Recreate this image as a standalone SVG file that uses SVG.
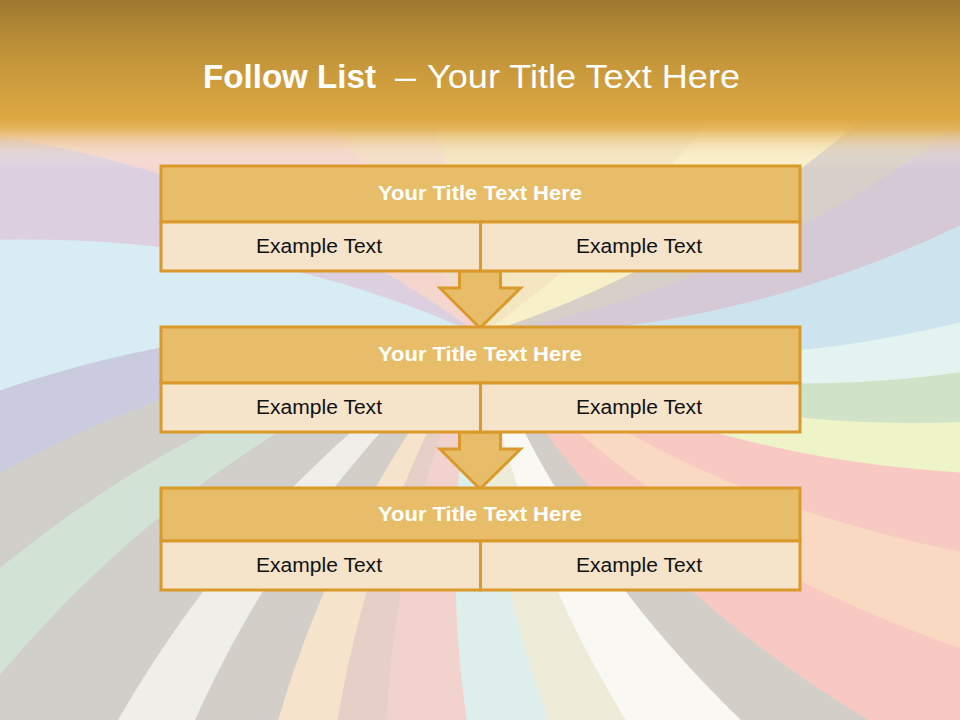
<svg xmlns="http://www.w3.org/2000/svg" xmlns:xlink="http://www.w3.org/1999/xlink" width="960" height="720" viewBox="0 0 960 720">
<style>
.ttl{fill:#E8BD69;stroke:#D99A2B;stroke-width:3}
.sub{fill:#F5E3CA;stroke:#D99A2B;stroke-width:3}
.arr{fill:#E8BD69;stroke:#D99A2B;stroke-width:3;stroke-linejoin:miter}
.ht{font-family:"Liberation Sans",Arial,sans-serif;font-weight:bold;font-size:20px;fill:#FFFFFF;text-anchor:middle}
.et{font-family:"Liberation Sans",Arial,sans-serif;font-size:20px;fill:#111111;text-anchor:middle}
.mt{font-family:"Liberation Sans",Arial,sans-serif;font-size:33px;fill:#FFFFFF}
</style>
<defs>
<path id="w" d="M0,0 C260,10 520,-70 800,-280 L1014,-76 L832.8,157.5 C485.3,199.4 220.2,138.7 0,0 Z"/>
<linearGradient id="hdr" x1="0" y1="0" x2="0" y2="170" gradientUnits="userSpaceOnUse">
<stop offset="0" stop-color="#9E782E"/>
<stop offset="0.35" stop-color="#C4963A"/>
<stop offset="0.7" stop-color="#DDA842"/>
<stop offset="0.76" stop-color="#E2AE4C" stop-opacity="0.85"/>
<stop offset="0.88" stop-color="#F2D8B0" stop-opacity="0.35"/>
<stop offset="1" stop-color="#FFFFFF" stop-opacity="0"/>
</linearGradient>
</defs>
<g id="background">
<rect x="0" y="0" width="960" height="720" fill="#E6DDD8"/>
<g transform="translate(480 335)">
<use href="#w" transform="rotate(284)" fill="#F3E6C0"/>
<use href="#w" transform="rotate(304)" fill="#F3E6C0"/>
<use href="#w" transform="rotate(323)" fill="#F8F0C8"/>
<use href="#w" transform="rotate(340)" fill="#D6D0C8"/>
<use href="#w" transform="rotate(348)" fill="#D5C9D6"/>
<use href="#w" transform="rotate(358)" fill="#CDE4EE"/>
<use href="#w" transform="rotate(369)" fill="#E3F3EF"/>
<use href="#w" transform="rotate(375)" fill="#D0E3C8"/>
<use href="#w" transform="rotate(381)" fill="#EEF3C8"/>
<use href="#w" transform="rotate(387)" fill="#F8C9C3"/>
<use href="#w" transform="rotate(396)" fill="#FAD9C2"/>
<use href="#w" transform="rotate(406)" fill="#F8C9C3"/>
<use href="#w" transform="rotate(417)" fill="#D3CFC8"/>
<use href="#w" transform="rotate(426)" fill="#FAF8F2"/>
<use href="#w" transform="rotate(438)" fill="#EEEBD8"/>
<use href="#w" transform="rotate(448)" fill="#DDEEEB"/>
<use href="#w" transform="rotate(460)" fill="#F2D2CC"/>
<use href="#w" transform="rotate(472)" fill="#E5CFC6"/>
<use href="#w" transform="rotate(479)" fill="#F5E3CB"/>
<use href="#w" transform="rotate(487)" fill="#D3CFC8"/>
<use href="#w" transform="rotate(497)" fill="#F0EEE8"/>
<use href="#w" transform="rotate(505)" fill="#D1CFC9"/>
<use href="#w" transform="rotate(518)" fill="#D2E3D5"/>
<use href="#w" transform="rotate(526)" fill="#D1CFC9"/>
<use href="#w" transform="rotate(535)" fill="#CBCBE0"/>
<use href="#w" transform="rotate(544)" fill="#D7ECF3"/>
<use href="#w" transform="rotate(562)" fill="#DCCFE0"/>
<use href="#w" transform="rotate(574)" fill="#F4D6CF"/>
<use href="#w" transform="rotate(599)" fill="#F2DCC8"/>
<use href="#w" transform="rotate(621)" fill="#F3E6C0"/>
</g>
<rect x="0" y="0" width="960" height="170" fill="url(#hdr)"/>
</g>
<g id="header">
<text class="mt" x="203" y="88" font-weight="bold" textLength="173" lengthAdjust="spacingAndGlyphs">Follow List</text>
<text class="mt" x="395" y="88" textLength="21" lengthAdjust="spacingAndGlyphs">–</text>
<text class="mt" x="427" y="88" textLength="313" lengthAdjust="spacingAndGlyphs">Your Title Text Here</text>
</g>
<g id="connectors">
<polygon class="arr" points="459.5,271 500.5,271 500.5,288 520.5,288 480,328 440,288 459.5,288"/>
<polygon class="arr" points="459.5,432 500.5,432 500.5,449 520.5,449 480,489 440,449 459.5,449"/>
</g>
<g id="box1">
<rect class="ttl" x="161" y="166" width="639" height="56"/>
<rect class="sub" x="161" y="222" width="319.5" height="49"/>
<rect class="sub" x="480.5" y="222" width="319.5" height="49"/>
<text class="ht" x="480" y="200" textLength="204" lengthAdjust="spacingAndGlyphs">Your Title Text Here</text>
<text class="et" x="319" y="253" textLength="126" lengthAdjust="spacingAndGlyphs">Example Text</text>
<text class="et" x="639" y="253" textLength="126" lengthAdjust="spacingAndGlyphs">Example Text</text>
</g>
<g id="box2">
<rect class="ttl" x="161" y="327" width="639" height="56"/>
<rect class="sub" x="161" y="383" width="319.5" height="49"/>
<rect class="sub" x="480.5" y="383" width="319.5" height="49"/>
<text class="ht" x="480" y="361" textLength="204" lengthAdjust="spacingAndGlyphs">Your Title Text Here</text>
<text class="et" x="319" y="414" textLength="126" lengthAdjust="spacingAndGlyphs">Example Text</text>
<text class="et" x="639" y="414" textLength="126" lengthAdjust="spacingAndGlyphs">Example Text</text>
</g>
<g id="box3">
<rect class="ttl" x="161" y="488" width="639" height="53"/>
<rect class="sub" x="161" y="541" width="319.5" height="49"/>
<rect class="sub" x="480.5" y="541" width="319.5" height="49"/>
<text class="ht" x="480" y="521" textLength="204" lengthAdjust="spacingAndGlyphs">Your Title Text Here</text>
<text class="et" x="319" y="572" textLength="126" lengthAdjust="spacingAndGlyphs">Example Text</text>
<text class="et" x="639" y="572" textLength="126" lengthAdjust="spacingAndGlyphs">Example Text</text>
</g>
</svg>
